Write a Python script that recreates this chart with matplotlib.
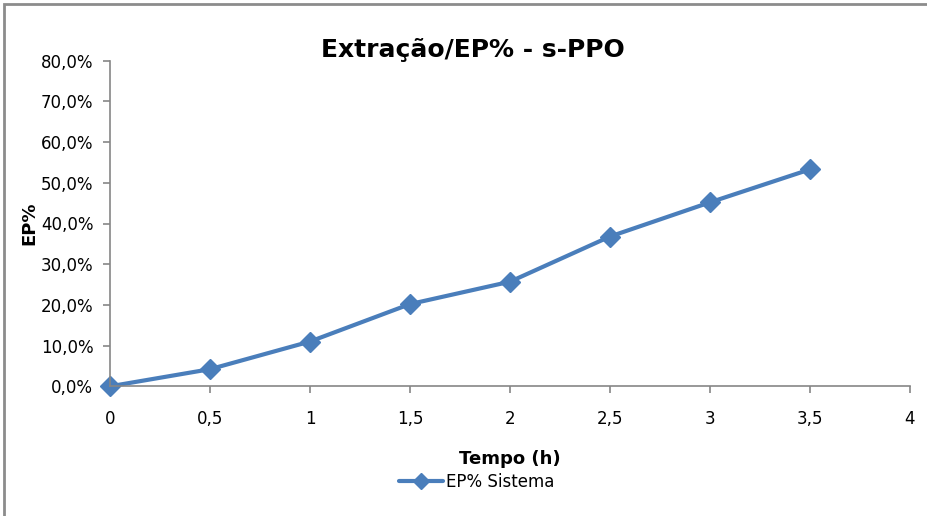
import matplotlib
matplotlib.use("Agg")
import matplotlib.pyplot as plt
from matplotlib.ticker import FuncFormatter, MultipleLocator
from matplotlib.patches import Rectangle

plt.rcParams['font.family'] = ['Liberation Sans Narrow', 'DejaVu Sans']

tempo = [0, 0.5, 1, 1.5, 2, 2.5, 3, 3.5]
ep = [0.0, 4.2, 11.0, 20.2, 25.7, 36.8, 45.2, 53.3]
series_name = "EP% Sistema"
title = "Extração/EP% - s-PPO"

W, H = 928, 516
fig = plt.figure(figsize=(W / 100, H / 100), dpi=100)
ax = fig.add_axes([110 / W, (H - 386.3) / H, 800 / W, 325.6 / H])

color = '#4A7EBB'
ax.plot(tempo, ep, color=color, lw=3.0, marker='D', ms=10, mec=color, mfc=color,
        label=series_name, solid_capstyle='round')

ax.set_xlim(0, 4)
ax.set_ylim(0, 80)
ax.xaxis.set_major_locator(MultipleLocator(0.5))
ax.yaxis.set_major_locator(MultipleLocator(10))
ax.xaxis.set_major_formatter(FuncFormatter(lambda v, p: (f"{v:g}").replace('.', ',')))
ax.yaxis.set_major_formatter(FuncFormatter(lambda v, p: f"{v:.1f}%".replace('.', ',')))

for s in ['top', 'right']:
    ax.spines[s].set_visible(False)
for s in ['left', 'bottom']:
    ax.spines[s].set_color('#868686')
    ax.spines[s].set_linewidth(1.2)
ax.tick_params(axis='both', colors='#868686', length=5, width=1.2, labelcolor='black',
               labelsize=12, direction='out')
ax.tick_params(axis='x', pad=12)
ax.tick_params(axis='y', pad=7)
for line in ax.get_lines():
    line.set_clip_on(False)

ax.set_xlabel("Tempo (h)", fontsize=13, fontweight='bold', labelpad=16)
ax.set_ylabel("EP%", fontsize=13, fontweight='bold', labelpad=2)

fig.text(473 / W, 1 - 50 / H, title, fontsize=18, fontweight='bold', ha='center', va='center')

leg = fig.legend(loc='center', bbox_to_anchor=(477 / W, 1 - 482 / H), frameon=False,
                 fontsize=12, handlelength=2.6, handletextpad=0.2, markerscale=0.8)

fig.patches.append(Rectangle((4 / W, -0.1), 1.2, 1 - 4 / H + 0.1, transform=fig.transFigure,
                             fill=False, edgecolor='#8c8c8c', lw=2, zorder=-1))

fig.savefig("out.png", dpi=100)
